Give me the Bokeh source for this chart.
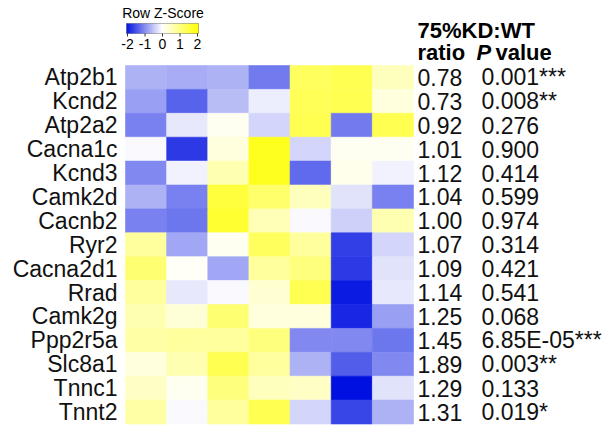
import numpy as np
from bokeh.plotting import figure
from bokeh.models import Range1d, LinearColorMapper, ColumnDataSource
from bokeh.core.properties import value
from bokeh.embed import file_html
from bokeh.resources import INLINE

# ---------------- data ----------------
genes = ["Atp2b1", "Kcnd2", "Atp2a2", "Cacna1c", "Kcnd3", "Camk2d", "Cacnb2",
         "Ryr2", "Cacna2d1", "Rrad", "Camk2g", "Ppp2r5a", "Slc8a1", "Tnnc1", "Tnnt2"]
samples = ["S1", "S2", "S3", "S4", "S5", "S6", "S7"]
zscores = [
    [-0.65, -0.70, -0.65, -1.10, 1.25, 1.35, 0.50],
    [-0.80, -1.30, -0.55, -0.15, 1.30, 1.35, 0.25],
    [-1.05, -0.20, 0.10, -0.35, 1.35, -1.10, 1.35],
    [-0.05, -1.65, 0.25, 1.75, -0.35, 0.10, 0.10],
    [-1.00, -0.12, 0.60, 1.75, -1.25, 0.15, -0.12],
    [-0.65, -1.05, 1.50, 1.15, 0.50, -0.25, -1.05],
    [-1.05, -1.15, 1.60, 0.55, -0.05, -0.40, 0.60],
    [0.75, -0.75, 0.10, 1.25, 0.75, -1.60, -0.35],
    [1.10, 0.05, -0.75, 0.75, 1.00, -1.65, -0.25],
    [0.75, -0.20, -0.05, 0.35, 1.35, -1.90, -0.20],
    [0.60, 0.30, 1.10, 0.25, 0.25, -1.80, -0.80],
    [0.70, 0.75, 0.75, 1.00, -1.00, -1.00, -1.15],
    [0.25, 0.60, 1.35, 0.75, -0.65, -1.35, -1.00],
    [0.45, 0.10, 1.00, 0.50, 0.45, -2.00, -0.25],
    [0.70, -0.05, 0.75, 1.35, -0.35, -1.55, -0.65],
]
ratios = [0.78, 0.73, 0.92, 1.01, 1.12, 1.04, 1.00, 1.07, 1.09, 1.14, 1.25, 1.45, 1.89, 1.29, 1.31]
pvalues = ["0.001", "0.008", "0.276", "0.900", "0.414", "0.599", "0.974", "0.314",
           "0.421", "0.541", "0.068", "6.85E-05", "0.003", "0.133", "0.019"]
stars = ["***", "**", "", "", "", "", "", "", "", "", "", "***", "**", "", "*"]
key_ticks = [-2, -1, 0, 1, 2]

# ---------------- layout ----------------
W, H = 605, 427
HM_LEFT, HM_RIGHT, HM_TOP = 125, 413, 65
cw = (HM_RIGHT - HM_LEFT) / len(samples)
rh = 23.9

def fx(px):
    return -0.5 + (px - HM_LEFT) / cw

def fy(py):
    return -0.5 + (py - HM_TOP) / rh

FONT = value("Liberation Sans")

# palette: blue -> white -> yellow
blue = np.array([0, 16, 224])
white = np.array([255, 255, 255])
yellow = np.array([255, 255, 0])
palette = []
n = 128
for i in range(n):
    t = i / (n - 1)
    c = blue + (white - blue) * t
    palette.append("#%02x%02x%02x" % tuple(int(round(v)) for v in c))
for i in range(1, n + 1):
    t = i / n
    c = white + (yellow - white) * t
    palette.append("#%02x%02x%02x" % tuple(int(round(v)) for v in c))
mapper = LinearColorMapper(palette=palette, low=-2, high=2)

p = figure(width=W, height=H, x_range=Range1d(fx(0), fx(W)), y_range=Range1d(fy(H), fy(0)),
           output_backend="svg", toolbar_location=None, min_border=0,
           x_axis_type=None, y_axis_type=None, outline_line_color=None)
p.grid.visible = False
p.background_fill_color = "white"
p.border_fill_color = "white"

# heatmap cells
xs, ys, zs = [], [], []
for r, row in enumerate(zscores):
    for c, z in enumerate(row):
        xs.append(c)
        ys.append(r)
        zs.append(z)
src = ColumnDataSource(dict(x=xs, y=ys, z=zs))
p.rect(x="x", y="y", width=1, height=1, source=src,
       fill_color={"field": "z", "transform": mapper},
       line_color={"field": "z", "transform": mapper}, line_width=0.6)

rows = list(range(len(genes)))

# gene labels
p.text(x=[fx(117)] * len(genes), y=rows, text=genes, text_align="right",
       text_baseline="middle", text_font=FONT, text_font_size="23px", text_color="#111111")

# ratio and p value columns
p.text(x=[fx(417)] * len(genes), y=rows, text=["%.2f" % r for r in ratios],
       text_align="left", text_baseline="middle", text_font=FONT,
       text_font_size="23px", text_color="#111111")
p.text(x=[fx(481)] * len(genes), y=rows, text=[pv + s for pv, s in zip(pvalues, stars)],
       text_align="left", text_baseline="middle", text_font=FONT,
       text_font_size="23px", text_color="#111111")

# headers
hdr = dict(text_align="left", text_baseline="middle", text_font=FONT,
           text_font_size="22px", text_color="black")
p.text(x=[fx(417)], y=[fy(30)], text=["75%KD:WT"], text_font_style="bold", **hdr)
p.text(x=[fx(417)], y=[fy(52)], text=["ratio"], text_font_style="bold", **hdr)
p.text(x=[fx(476)], y=[fy(52)], text=["P"], text_font_style="bold italic", **hdr)
p.text(x=[fx(495)], y=[fy(52)], text=["value"], text_font_style="bold", **hdr)

# colour key
KX0, KX1, KY0, KY1 = 126, 198, 23, 33
nk = 144
kv = np.linspace(-2, 2, nk)
edges = np.linspace(KX0, KX1, nk + 1)
ksrc = ColumnDataSource(dict(left=[fx(e) for e in edges[:-1]], right=[fx(e) for e in edges[1:]],
                             v=kv))
p.quad(left="left", right="right", top=fy(KY0), bottom=fy(KY1), source=ksrc,
       fill_color={"field": "v", "transform": mapper},
       line_color={"field": "v", "transform": mapper}, line_width=0.5)
p.rect(x=[fx((KX0 + KX1) / 2)], y=[fy((KY0 + KY1) / 2)], width=(KX1 - KX0) / cw,
       height=(KY1 - KY0) / rh, fill_color=None, line_color="#888888", line_width=0.6)
tick_px = [KX0 + 1 + (t + 2) * 17.5 for t in key_ticks]
p.segment(x0=[fx(t) for t in tick_px], y0=[fy(KY1)] * len(key_ticks),
          x1=[fx(t) for t in tick_px], y1=[fy(KY1 + 3)] * len(key_ticks),
          line_color="#333333", line_width=1)
p.text(x=[fx(t) for t in tick_px], y=[fy(43)] * len(key_ticks),
       text=[str(t) for t in key_ticks], text_align="center", text_baseline="middle",
       text_font=FONT, text_font_size="14px", text_color="black")
p.text(x=[fx(162.5)], y=[fy(12.5)], text=["Row Z-Score"], text_align="center",
       text_baseline="middle", text_font=FONT, text_font_size="14px", text_color="black")

open("out.html", "w").write(file_html(p, INLINE))
